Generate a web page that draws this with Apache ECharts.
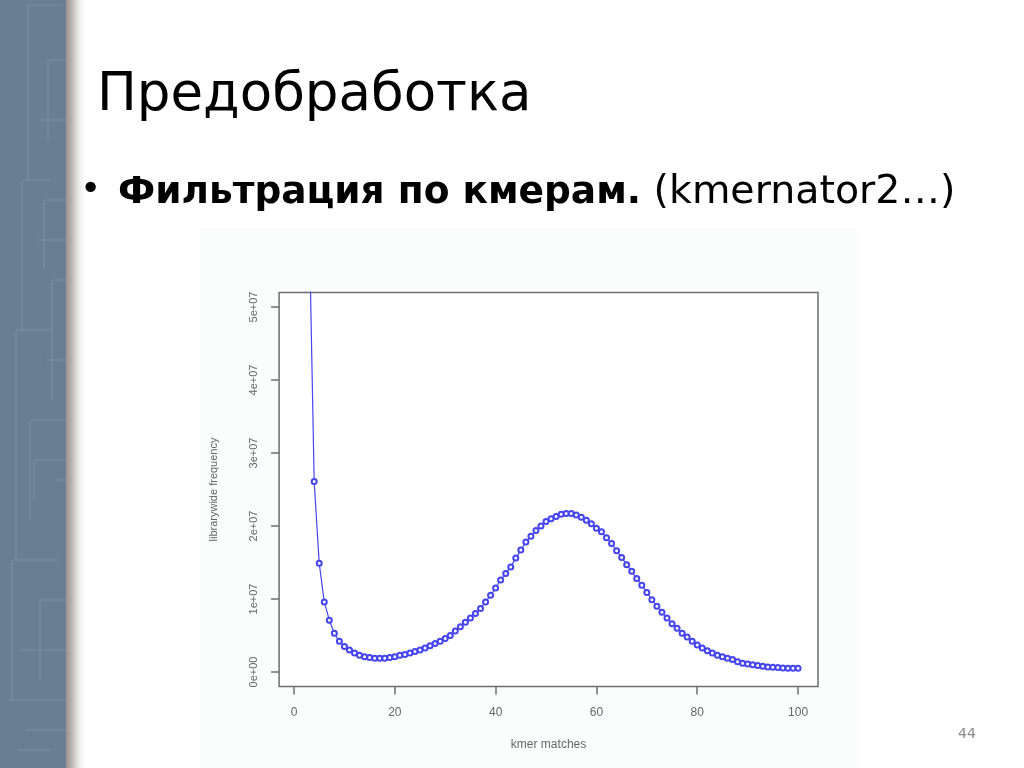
<!DOCTYPE html>
<html><head><meta charset="utf-8">
<script src="https://cdn.jsdelivr.net/npm/echarts@6/dist/echarts.min.js"></script>
<style>html,body{margin:0;padding:0;background:#fff}#c{width:1024px;height:768px}</style>
</head><body><div id="c"></div>
<script>
// kmer match counts (x) and librarywide frequency (y)
const kmerMatches = [1,2,3,4,5,6,7,8,9,10,11,12,13,14,15,16,17,18,19,20,21,22,23,24,25,26,27,28,29,30,31,32,33,34,35,36,37,38,39,40,41,42,43,44,45,46,47,48,49,50,51,52,53,54,55,56,57,58,59,60,61,62,63,64,65,66,67,68,69,70,71,72,73,74,75,76,77,78,79,80,81,82,83,84,85,86,87,88,89,90,91,92,93,94,95,96,97,98,99,100];
const frequency = [3.0e8,1.2e8,6.2e7,2.61e7,1.49e7,9.6e6,7.1e6,5.3e6,4.2e6,3.5e6,3.0e6,2.6e6,2.3e6,2.1e6,2.0e6,1.9e6,1.9e6,1.9e6,2.0e6,2.1e6,2.3e6,2.4e6,2.6e6,2.8e6,3.0e6,3.3e6,3.6e6,3.9e6,4.2e6,4.6e6,5.0e6,5.6e6,6.2e6,6.8e6,7.4e6,8.0e6,8.7e6,9.6e6,1.05e7,1.15e7,1.26e7,1.35e7,1.44e7,1.56e7,1.67e7,1.78e7,1.86e7,1.94e7,2.00e7,2.06e7,2.10e7,2.13e7,2.16e7,2.17e7,2.17e7,2.15e7,2.12e7,2.08e7,2.03e7,1.97e7,1.92e7,1.84e7,1.76e7,1.66e7,1.57e7,1.47e7,1.38e7,1.28e7,1.19e7,1.09e7,9.9e6,9.0e6,8.2e6,7.4e6,6.6e6,6.0e6,5.3e6,4.8e6,4.2e6,3.7e6,3.3e6,2.9e6,2.6e6,2.3e6,2.1e6,1.9e6,1.7e6,1.4e6,1.2e6,1.1e6,1.0e6,9.0e5,8.0e5,7.0e5,6.5e5,6.0e5,5.5e5,5.0e5,5.0e5,5.0e5];
const xTicks = [0,20,40,60,80,100];
const yTicks = [0,1e7,2e7,3e7,4e7,5e7];
const yTickLabels = ['0e+00','1e+07','2e+07','3e+07','4e+07','5e+07'];

const titleText = 'Предобработка';
const bulletBold = 'Фильтрация по кмерам.';
const bulletRegular = ' (kmernator2…)';
const pageNumber = '44';

// decorative dendrogram-like lines on the left strip
const treeLines = [
  [28,5,28,180],[28,5,62,5],[48,60,48,140],[48,60,66,60],[40,120,66,120],[22,180,22,330],[22,180,50,180],
  [44,200,44,270],[44,200,66,200],[36,240,66,240],[16,330,16,560],[16,330,52,330],[52,280,52,400],[52,280,66,280],
  [30,420,30,520],[30,420,66,420],[12,560,12,700],[12,560,60,560],[40,600,40,680],[40,600,66,600],[20,650,66,650],
  [8,700,66,700],[26,730,66,730],[18,750,50,750],[34,460,66,460],[34,460,34,500],[56,480,66,480],[46,360,66,360]
];

const gfx = [
  {type:'rect', shape:{x:200,y:228,width:658,height:540}, style:{fill:'#fbfcfc'}, z:-10},
  {type:'rect', shape:{x:0,y:0,width:66,height:768}, style:{fill:'#687e92'}, z:-5},
  {type:'rect', shape:{x:66,y:0,width:22,height:768}, style:{fill:{type:'linear',x:0,y:0,x2:1,y2:0,colorStops:[{offset:0,color:'#9b918c'},{offset:0.25,color:'#b8b4b2'},{offset:1,color:'rgba(255,255,255,0)'}]}}, z:-5},
  {type:'text', left:97, top:70, style:{text:titleText, font:'53px "DejaVu Sans"', fill:'#000'}},
  {type:'text', left:80, top:173, style:{text:'•', font:'36px "DejaVu Sans"', fill:'#000'}},
  {type:'text', left:118, top:173, style:{text:'{b|'+bulletBold+'}{r|'+bulletRegular+'}', rich:{b:{font:'bold 37.5px "DejaVu Sans"',fill:'#000'}, r:{font:'39.5px "DejaVu Sans"',fill:'#000'}}}},
  {type:'text', left:958, top:727, style:{text:pageNumber, font:'14px "DejaVu Sans"', fill:'#8a8a8a'}}
];
treeLines.forEach(l => gfx.push({type:'line', shape:{x1:l[0],y1:l[1],x2:l[2],y2:l[3]}, style:{stroke:'#7a90a3', lineWidth:1}, z:-4}));

const chart = echarts.init(document.getElementById('c'));
const gray = '#6e6e6e';
chart.setOption({
  animation: false,
  backgroundColor: '#ffffff',
  graphic: gfx,
  grid: {left:279.1, right:206, top:292.4, bottom:81.4, show:true, borderColor:gray, borderWidth:1.5, backgroundColor:'#ffffff'},
  xAxis: {
    type:'value', min:-2.96, max:103.96,
    name:'kmer matches', nameLocation:'middle', nameGap:52,
    nameTextStyle:{color:'#666', fontSize:12, fontFamily:'Liberation Sans'},
    axisLine:{show:false, onZero:false}, splitLine:{show:false},
    axisTick:{show:true, inside:false, customValues:xTicks, length:8, lineStyle:{color:gray, width:1.5}},
    axisLabel:{customValues:xTicks, margin:20, color:'#666', fontSize:12, fontFamily:'Liberation Sans'}
  },
  yAxis: {
    type:'value', min:-2e6, max:5.2e7,
    name:'librarywide frequency', nameLocation:'middle', nameGap:60, nameRotate:90,
    nameTextStyle:{color:'#666', fontSize:11, fontFamily:'Liberation Sans'},
    axisLine:{show:false, onZero:false}, splitLine:{show:false},
    axisTick:{show:true, inside:false, customValues:yTicks, length:8, lineStyle:{color:gray, width:1.5}},
    axisLabel:{customValues:yTicks, rotate:90, margin:20, color:'#666', fontSize:11, fontFamily:'Liberation Sans',
      formatter: v => yTickLabels[yTicks.indexOf(v)] ?? ''}
  },
  series: [{
    type:'line', clip:true,
    data: kmerMatches.map((k,i)=>[k, frequency[i]]),
    symbol:'emptyCircle', symbolSize:5, showAllSymbol:true,
    lineStyle:{color:'#4545ee', width:1.2},
    itemStyle:{color:'#4545ee', borderColor:'#4545ee', borderWidth:0.9}
  }]
});
</script></body></html>
